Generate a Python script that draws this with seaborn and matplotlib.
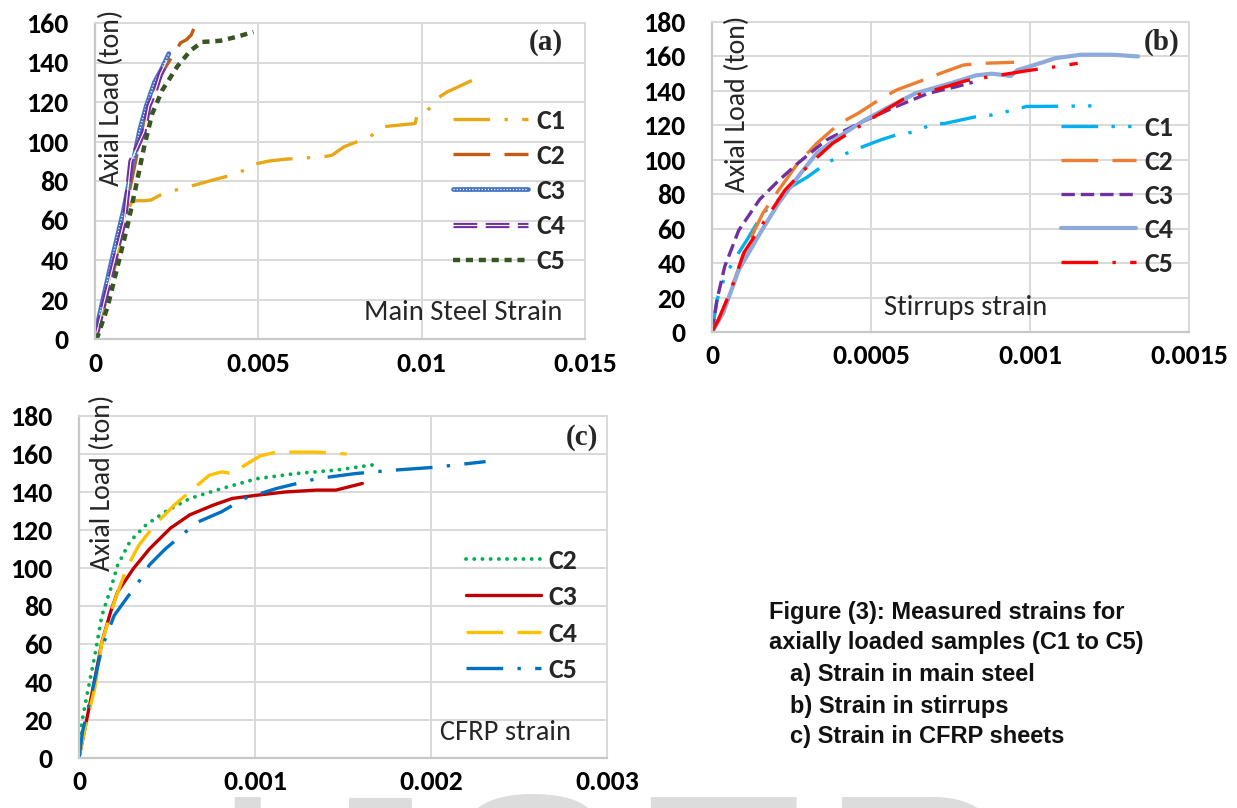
import numpy as np
import pandas as pd
import seaborn as sns
import matplotlib
matplotlib.use("Agg")
import matplotlib.pyplot as plt
from matplotlib import font_manager as fm
from matplotlib.legend_handler import HandlerTuple

# ---------------- data ----------------
# (a) main steel strain
a_c1_x = [0, 0.0003, 0.00054, 0.00089, 0.00115, 0.0015, 0.00172, 0.0021, 0.00307, 0.0035, 0.004, 0.0046,
          0.00478, 0.00532, 0.0058, 0.00702, 0.00726, 0.00762, 0.00841, 0.00883, 0.00931, 0.0098, 0.00986,
          0.01016, 0.0104, 0.01077, 0.01155]
a_c1_y = [0, 17, 30, 62, 70, 70, 70.4, 73.8, 78, 80, 82.2, 85.6, 88.1, 90.1, 91, 92.3, 93.1, 97.3, 102.4,
          107.5, 108.3, 109.1, 113.3, 115, 121, 125, 131]
a_c2_x = [0, 0.0003, 0.0006, 0.0009, 0.00117, 0.0014, 0.0016, 0.00187, 0.0021, 0.00232, 0.0024, 0.00262,
          0.0028, 0.00295, 0.00302]
a_c2_y = [0, 22, 42, 63, 84, 103, 115, 128, 136, 142, 144, 150, 151.5, 154, 157]
a_c3_x = [0, 0.00008, 0.00027, 0.00057, 0.00087, 0.00112, 0.00137, 0.00157, 0.00182, 0.00205, 0.00226]
a_c3_y = [0, 8, 22, 44, 65, 86, 106, 118, 130, 137, 144.5]
a_c4_x = [0, 0.0001, 0.0003, 0.0006, 0.0009, 0.0011, 0.0015, 0.00165, 0.00185, 0.002, 0.0022]
a_c4_y = [0, 6, 20, 40, 60, 90, 105, 118, 126, 134, 141]
a_c5_x = [0, 0.00008, 0.00039, 0.00069, 0.00099, 0.00125, 0.0015, 0.00175, 0.00206, 0.00252, 0.00292,
          0.00328, 0.00383, 0.00434, 0.00485]
a_c5_y = [0, 1.3, 16.5, 36.7, 57, 77, 97, 114, 126, 138, 146, 150.4, 151, 153, 155.5]

# (b) stirrups strain
b_c1_x = [0, 0.000016, 0.00004, 0.00007, 0.00011, 0.00016, 0.00021, 0.00025, 0.0003, 0.00036, 0.0004,
          0.00048, 0.00053, 0.00058, 0.00063, 0.0007, 0.00073, 0.00083, 0.00088, 0.00095, 0.00099, 0.00104,
          0.0012]
b_c1_y = [0, 18.8, 32, 42, 53.5, 69, 77, 84.5, 90, 98, 102, 108, 111.5, 114.5, 116, 121, 121, 125, 126,
          129, 131, 131, 131.3]
b_c2_x = [0, 0.000035, 0.00007, 0.00011, 0.00016, 0.00021, 0.00027, 0.00033, 0.0004, 0.00046, 0.00051,
          0.00058, 0.00066, 0.00073, 0.00079, 0.00085, 0.00095]
b_c2_y = [0, 13, 30, 50, 69, 82.5, 98, 109.6, 121, 127, 133, 140.5, 146, 151, 155, 156, 156.6]
b_c3_x = [0, 0.000016, 0.00004, 0.000084, 0.00015, 0.00021, 0.00027, 0.00036, 0.00046, 0.00058, 0.00068,
          0.00077, 0.00082]
b_c3_y = [0, 19, 38, 59, 77, 88, 98, 111.5, 121, 131, 138.6, 142.5, 145]
b_c4_x = [0, 0.000035, 0.000084, 0.00015, 0.00021, 0.00027, 0.00033, 0.0004, 0.00048, 0.00056, 0.00064,
          0.00075, 0.00083, 0.00088, 0.00094, 0.00096, 0.00103, 0.00108, 0.00116, 0.00126, 0.00134]
b_c4_y = [0, 11, 36, 57, 75, 90, 104, 113.5, 123, 131, 138.6, 144.4, 149, 150, 148.7, 152, 156, 159, 161,
          161, 160]
b_c5_x = [0, 0.00002, 0.00006, 0.0001, 0.00016, 0.00023, 0.00031, 0.00038, 0.00046, 0.00052, 0.0006,
          0.0007, 0.0008, 0.0009, 0.001, 0.00108, 0.00115]
b_c5_y = [0, 7, 24.5, 46, 63, 82.5, 98, 109.6, 119, 126, 135, 140.5, 146, 149, 152, 154, 156]

# (c) CFRP strain
c_c2_x = [0, 0.00001, 0.000045, 0.00009, 0.00013, 0.00018, 0.00022, 0.00029, 0.00038, 0.00049, 0.00063,
          0.00081, 0.00101, 0.00123, 0.00146, 0.00168]
c_c2_y = [0, 15.8, 33, 54, 75, 89, 101.6, 114, 122.6, 129.6, 136.6, 141.8, 147, 149.7, 151.5, 154.4]
c_c3_x = [0, 0.000034, 0.00008, 0.00013, 0.00018, 0.00022, 0.00031, 0.0004, 0.00052, 0.00063, 0.00076,
          0.00087, 0.00101, 0.00117, 0.00135, 0.00146, 0.00161]
c_c3_y = [0, 15.8, 36.8, 61, 77, 87.5, 99.8, 110, 121, 128, 133, 136.6, 138.3, 140, 141, 141, 144.5]
c_c4_x = [0, 0.00003, 0.00009, 0.00013, 0.0002, 0.00027, 0.00034, 0.00043, 0.00054, 0.00065, 0.00074,
          0.00081, 0.00087, 0.00094, 0.00103, 0.00112, 0.00135, 0.00152]
c_c4_y = [0, 14, 36.8, 61, 82, 99.8, 112, 122.6, 133, 141.8, 148.8, 150.6, 149.7, 154, 159, 161, 161, 160]
c_c5_x = [0, 0.00002, 0.00007, 0.00013, 0.0002, 0.00027, 0.00034, 0.0004, 0.00049, 0.00058, 0.00067,
          0.00081, 0.00094, 0.00112, 0.00135, 0.00157, 0.00179, 0.00202, 0.00231]
c_c5_y = [0, 14, 33, 58, 75, 84, 92.8, 101.6, 110, 117, 124, 129.6, 136.6, 141.8, 147, 149.7, 151.5, 153, 156]

a_labels = ["C1", "C2", "C3", "C4", "C5"]
b_labels = ["C1", "C2", "C3", "C4", "C5"]
c_labels = ["C2", "C3", "C4", "C5"]

a_xticks = [0, 0.005, 0.01, 0.015]
a_xticklabels = ["0", "0.005", "0.01", "0.015"]
a_yticks = list(range(0, 161, 20))
b_xticks = [0, 0.0005, 0.001, 0.0015]
b_xticklabels = ["0", "0.0005", "0.001", "0.0015"]
b_yticks = list(range(0, 181, 20))
c_xticks = [0, 0.001, 0.002, 0.003]
c_xticklabels = ["0", "0.001", "0.002", "0.003"]
c_yticks = list(range(0, 181, 20))

y_title = "Axial Load (ton)"
caption_lines = ["Figure (3): Measured strains for",
                 "axially loaded samples (C1 to C5)",
                 "a) Strain in main steel",
                 "b) Strain in stirrups",
                 "c) Strain in CFRP sheets"]

# ---------------- style ----------------
sns.set_theme(style="white")
SANS = "Carlito"
plt.rcParams["font.family"] = [SANS, "DejaVu Sans"]

W, H = 1237, 808
fig = plt.figure(figsize=(W / 100, H / 100), dpi=100)
fig.patch.set_facecolor("white")

GRID = "#d9d9d9"
TICKFS = 20
LW = 2.4
BOLD = fm.FontProperties(family=SANS, weight="bold", size=TICKFS)


def px_axes(left, right, top, bottom):
    return fig.add_axes([left / W, 1 - bottom / H, (right - left) / W, (bottom - top) / H])


def style_axes(ax, xticks, xlabels, yticks, ymax, xmax):
    ax.set_xlim(0, xmax)
    ax.set_ylim(0, ymax)
    ax.set_xticks(xticks)
    ax.set_xticklabels(xlabels, fontproperties=BOLD)
    ax.set_yticks(yticks)
    ax.set_yticklabels([str(v) for v in yticks], fontproperties=BOLD)
    ax.grid(True, color=GRID, lw=1.4)
    ax.set_axisbelow(True)
    for s in ["top", "right"]:
        ax.spines[s].set_color(GRID)
        ax.spines[s].set_linewidth(1.4)
    for s in ["left", "bottom"]:
        ax.spines[s].set_color("#c8c8c8")
        ax.spines[s].set_linewidth(1.6)
    ax.tick_params(axis="y", length=7, width=1.4, color=GRID, pad=12, labelcolor="black")
    ax.tick_params(axis="x", length=0, pad=9, labelcolor="black")
    ax.set_xlabel("")
    ax.set_ylabel("")
    ax.set_facecolor("white")


def draw(ax, x, y, **kw):
    n0 = len(ax.lines)
    sns.lineplot(x=x, y=y, ax=ax, sort=False, estimator=None, legend=False, **kw)
    return ax.lines[n0]


def add_legend(ax, handles, labels, anchor, spacing):
    leg = ax.legend(handles, labels, loc="center left", bbox_to_anchor=anchor, frameon=False,
                    borderpad=0, borderaxespad=0, handlelength=2.7, handletextpad=0.28,
                    labelspacing=spacing, prop=BOLD,
                    handler_map={tuple: HandlerTuple(ndivide=1, pad=0)})
    return leg


NOTEFS = 20.5
TITLEFS = 20

# ---------------- panel (a) ----------------
axa = px_axes(95, 585, 23, 339)
h1 = draw(axa, a_c1_x, a_c1_y, color="#E6A817", lw=LW, linestyle=(0, (11, 4.3, 1, 4.3)))
h2 = draw(axa, a_c2_x, a_c2_y, color="#C55A11", lw=LW, linestyle=(0, (11, 4.3)))
h3a = draw(axa, a_c3_x, a_c3_y, color="#4472C4", lw=3.4)
h3b = draw(axa, a_c3_x, a_c3_y, color="white", lw=0.9, linestyle=(0, (1, 1.5)))
h4a = draw(axa, a_c4_x, a_c4_y, color="#7030A0", lw=3.8, linestyle=(0, (4.5, 1.6)))
h4b = draw(axa, a_c4_x, a_c4_y, color="white", lw=0.8)
h5 = draw(axa, a_c5_x, a_c5_y, color="#375623", lw=3.2, linestyle=(0, (1.6, 1.3)))
style_axes(axa, a_xticks, a_xticklabels, a_yticks, 160, 0.015)
add_legend(axa, [h1, h2, (h3a, h3b), (h4a, h4b), h5], a_labels, (0.731, 0.468), 0.40)
fig.text(546 / W, 1 - 43 / H, "(a)", ha="center", va="center",
         family="Liberation Serif", weight="bold", fontsize=21)
fig.text(463 / W, 1 - 312 / H, "Main Steel Strain", ha="center", va="center", fontsize=NOTEFS,
         family=SANS)
fig.text(111.5 / W, 1 - 97.5 / H, y_title, rotation=90, ha="center", va="center", fontsize=TITLEFS)

# ---------------- panel (b) ----------------
axb = px_axes(712, 1189, 22, 332)
g1 = draw(axb, b_c1_x, b_c1_y, color="#00B0F0", lw=LW, linestyle=(0, (11, 4, 1, 4, 1, 4)))
g2 = draw(axb, b_c2_x, b_c2_y, color="#ED7D31", lw=LW, linestyle=(0, (11, 4.3)))
g3 = draw(axb, b_c3_x, b_c3_y, color="#7030A0", lw=LW, linestyle=(0, (4, 1.8)))
g4 = draw(axb, b_c4_x, b_c4_y, color="#8EA9DB", lw=3.0)
g5 = draw(axb, b_c5_x, b_c5_y, color="#FF0000", lw=LW, linestyle=(0, (11, 4.3, 1, 4.3)))
style_axes(axb, b_xticks, b_xticklabels, b_yticks, 180, 0.0015)
add_legend(axb, [g1, g2, g3, g4, g5], b_labels, (0.732, 0.439), 0.36)
fig.text(1162 / W, 1 - 42 / H, "(b)", ha="center", va="center",
         family="Liberation Serif", weight="bold", fontsize=21)
fig.text(966 / W, 1 - 308 / H, "Stirrups strain", ha="center", va="center", fontsize=NOTEFS,
         family=SANS)
fig.text(737.5 / W, 1 - 104 / H, y_title, rotation=90, ha="center", va="center", fontsize=TITLEFS)

# ---------------- panel (c) ----------------
axc = px_axes(79, 607, 416, 758)
k2 = draw(axc, c_c2_x, c_c2_y, color="#00B050", lw=2.8, linestyle=(0, (0.01, 2.1)),
          dash_capstyle="round")
k3 = draw(axc, c_c3_x, c_c3_y, color="#C00000", lw=LW)
k4 = draw(axc, c_c4_x, c_c4_y, color="#FFC000", lw=LW, linestyle=(0, (11, 4.3)))
k5 = draw(axc, c_c5_x, c_c5_y, color="#0070C0", lw=LW, linestyle=(0, (11, 4.3, 1, 4.3)))
style_axes(axc, c_xticks, c_xticklabels, c_yticks, 180, 0.003)
add_legend(axc, [k2, k3, k4, k5], c_labels, (0.733, 0.417), 0.45)
fig.text(582 / W, 1 - 437 / H, "(c)", ha="center", va="center",
         family="Liberation Serif", weight="bold", fontsize=21)
fig.text(505 / W, 1 - 733 / H, "CFRP strain", ha="center", va="center", fontsize=NOTEFS,
         family=SANS)
fig.text(102 / W, 1 - 483 / H, y_title, rotation=90, ha="center", va="center", fontsize=TITLEFS)

# ---------------- caption ----------------
cap_y = [612, 642, 675, 707, 737]
cap_x = [769, 769, 790, 790, 790]
for txt, xx, yy in zip(caption_lines, cap_x, cap_y):
    fig.text(xx / W, 1 - yy / H, txt, ha="left", va="center", family="Liberation Sans",
             weight="bold", fontsize=17, color="#111111")

# ---------------- watermark (cropped at bottom) ----------------
wm_letters = ["I", "J", "S", "E", "R"]
wm_x = [208, 293, 437, 627, 818]
for ch, xx in zip(wm_letters, wm_x):
    fig.text(xx / W, 1 - 989 / H, ch, ha="left", va="baseline", family="Liberation Sans",
             fontsize=201, color="#dcdcdc", zorder=-5)

fig.savefig("out.png", dpi=100, facecolor="white")
